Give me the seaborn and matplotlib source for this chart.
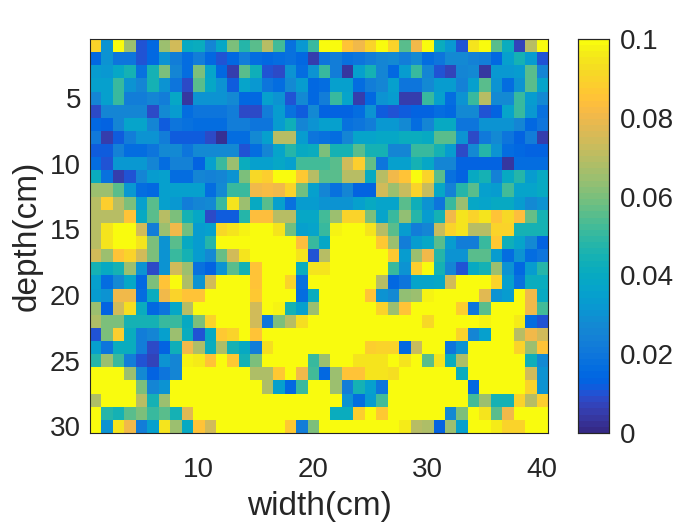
import numpy as np
import matplotlib
matplotlib.use("Agg")
import matplotlib.pyplot as plt
from matplotlib.colors import ListedColormap
import seaborn as sns

# cell values, in units of 0.01 (rows = depth, columns = width)
r01 = [9,3,10,6.5,1,1.5,6.5,7.5,4,4.2,2.5,3.8,6,4.8,5.5,7,5.2,1.8,3.2,5, 10,10,8.5,8,9,10,9,5.5,8,10,4.2,3.2,1,9.5,10,5.5,4.2,.7,7,10]
r02 = [1.5,3,2,2,1,1.5,3,2.3,1.7,2.2,1.5,1,1.5,2.3,1.7,1.5,1.7,1.8,1.5,.5, 2,2.2,1.8,2,2.2,2.5,2.8,2.2,2.7,1.7,2,2.7,2.7,2.4,2.3,1.5,3.5,4.5,3.3,1]
r03 = [3.3,3.2,3.8,4.5,1.8,4.5,6,2.5,1.7,6,3.7,1.5,.6,5.5,4.3,1,.8,3,1.7,3, 5,2.3,.4,3.5,4.5,2.5,1.5,3.3,5,2.5,1,.7,2.5,2.7,.4,3.2,3.2,3.3,5.5,2.5]
r04 = [3.5,3.5,5,3,2.5,4.5,3,2,.9,5.5,3.8,3,1.2,3.7,3.2,2,1.7,2.8,3.3,1.5, 1.7,3.5,3.5,1.7,2.2,2.5,3.5,2,2,2.7,3.3,3.3,2.4,3.5,5.5,3,1.7,3,5.5,3.7]
r05 = [2.5,3.5,5,2.2,2.2,2.5,2.2,3.8,.4,3,3,3,2.7,1.5,1.5,3.5,3,1,2.7,1.5, 2.3,5,3.7,.5,1.5,3,3.3,.6,.6,5,3.5,1.7,3,5,7,2.7,2.8,5,3.3,2.7]
r06 = [.8,2.5,2.5,2.5,2.5,.8,2.7,3.3,1.7,2,2,2,2.2,.8,.8,2.3,3.3,1.8,1.2,2.8, 1.4,1.4,1.4,1.6,3,1.2,1,1.2,1.4,1.4,1.7,1.5,2.8,2.8,1,1.3,3.7,5,3.2,1.8]
r07 = [1.5,1.3,2.5,3.7,3.7,2.5,1.1,2,1.8,1.6,1.6,1.6,2.2,2.2,2,1.9,3.3,4.3,2.5,3, 3.5,3.5,1.8,2,2.3,3.2,3.2,2.7,1.6,2.5,4,4,2,2,3,3,3,2.5,1.5,2]
r08 = [2.1,.6,1.2,2.2,3,3,2.3,1.2,1.2,1.2,.8,.3,1.6,1.6,2.8,3.5,7,7,3.4,2, 1.8,1.7,2.5,3.6,3.6,3.8,3.8,4.2,4.2,4,5.5,5.5,3,.9,2.1,2.8,2,1.3,2.2,.6]
r09 = [1.2,1.2,2.4,1.7,1.7,2,2.8,2.8,2,2.7,2.7,2.7,2.8,1,1.7,2.6,3.7,4.8,4,4.2, 6,4.5,4.5,5.5,4.5,4.5,2.5,2.5,5,5,4.5,3.3,.8,2.8,4.8,3,1.6,1.5,1.4,1.4]
r10 = [1.6,1,3.2,3.2,3.2,2.6,1.6,2.4,2.4,1.3,3.5,5,6.5,4.2,3.5,3.5,3.8,3.5,5.3,5.3, 5.3,5.5,7.5,8.8,5.7,1.9,3.5,3.5,4.5,3.8,2.5,2.5,1.4,1.4,1.4,1.3,.4,1.6,1.6,1.6]
r11 = [4.2,1.8,.6,1,2.6,3.3,3.5,1.7,1.7,2.5,2.4,2.6,3,6,9.2,8.8,10,10,8.7,7, 5.5,5.5,7,7,4,7,8,8.5,10,9,5.5,1.8,1.4,4,4.5,2.4,4,4.7,3.3,4]
r12 = [6.5,6.5,5.5,3.2,1.6,1.5,3.5,3.5,3.5,3.5,1.7,2.8,5,5,8,8.2,8,9,5.8,3.5, 2.5,1.8,2.6,1.3,1.3,7.5,6.5,7.2,9,7.3,3.8,2.4,4.8,5.5,3.5,3.3,5.2,3.7,3.6,4]
r13 = [7,8.8,7,6,3.5,5.5,3.5,3.2,2.2,2.5,2.7,5,9.5,6.5,4,5.5,3.5,1.8,3.3,3.3, 3,3,3,3.5,4,3.6,3.6,5.5,4.3,3,1.9,5,6.5,3.8,3.6,4,4,3.3,2.8,3]
r14 = [7,7,7,8.5,4,5.5,7,6,4.5,3.8,.8,1.2,1.2,4.8,8.3,8.3,7,7,3.8,3.8, 5.3,6.5,9,9,6,3.7,5,6.3,4.7,3.3,4.5,8,9.5,9,9.5,8.5,9.2,8.3,5.7,4.5]
r15 = [7,9.5,10,10,7.5,2.3,6.5,8,5.8,3.3,3.5,9.2,9.5,9.8,10,10,9.5,5.8,3.5,3.7, 5,9.8,10,10,9.5,7,5.5,3.3,2.2,2.5,7.3,9,9.5,7,7,9,9,4.5,4.5,4.5]
r16 = [7,9.5,10,10,9.5,6,3,5.5,4,3.3,4.8,10,10,10,10,10,10,10,8.3,5, 3.8,10,10,10,10,8.7,6.5,2.3,3.3,3.8,5.5,3.3,2.2,2.2,5,8.7,4.3,3.7,2.8,1.4]
r17 = [7.5,6.5,8.5,9,7.5,6,3,5,4.5,3.3,2.8,5.7,7.5,9.5,10,10,10,10,9.5,1, 7,10,10,10,10,10,8.6,3.3,6.5,8,4.8,3,3,5.5,5.5,3.3,1.6,3,1.7,2]
r18 = [4.5,4,4.5,6.5,3,.8,3,7.5,6.5,1.8,1.4,3,5.5,4.5,8.5,10,10,10,4.2,9.5, 9.5,10,10,10,10,10,5,3,8.8,10,4.5,2.5,1,4,4.5,6.5,3,1.5,3.4,4.7]
r19 = [3.5,1.6,2.8,3.8,1.5,6,8.5,10,6.8,3,7.5,10,10,10,8.5,10,10,9,1.8,10, 10,10,10,10,10,7,1.5,2,3.6,3.6,3.8,7.5,10,10,10,9,3.5,1.8,4.2,4.2]
r20 = [3.4,3,8,8,1.6,4.2,8,9,8.5,8.5,10,10,10,10,8.7,10,10,10,1.7,4.2, 10,10,10,10,8.5,3,2.8,6.3,6.5,9.7,10,10,10,10,7.8,3,3.3,10,8,4]
r21 = [6.5,1.3,7.5,9.3,4.2,1.5,2,3.8,7,10,10,10,10,10,7.5,10,9.7,4.5,3.5,6.5, 10,10,10,10,10,9,6.5,8.5,10,10,10,10,8.8,2,5.5,10,10,10,8,5.3]
r22 = [6.8,6,6,4.5,4.5,4.5,5,5,4,6,9,10,10,10,7.5,2,6,7,9.3,10, 10,10,10,10,10,10,10,10,9.9,9.2,10,10,10,10,9.7,10,10,9.6,1.7,1]
r23 = [1,6,8.8,4.2,2.2,2.5,3.5,6.5,4.2,1,4,8.7,9,10,8.5,10,10,10,10,10, 10,10,10,10,10,10,10,10,10,10,10,10,9,2.5,3.5,10,9.9,7,8,7.5]
r24 = [3.5,2,4.2,4.2,2.2,.8,1.3,4.3,8,6.8,4.2,6.8,4.5,4,2.2,9.3,10,10,10,10, 10,10,10,10,8.8,9,9,1.5,7.2,10,10,2,3,10,10,10,10,9,6.5,8.5]
r25 = [4.8,6.5,5,2.2,1,.7,3,2.5,9.8,9.6,8.5,10,8.7,4.5,6,10,10,10,10,5, 6.5,10,10,9.5,9.5,9.5,10,9.5,10,5.5,9.5,4.2,6.8,10,10,10,10,10,4.3,2.7]
r26 = [10,10,10,6.5,2.8,1.3,2,2.5,10,10,10,10,10,10,6.8,6.8,8.7,10,8,5.3, 1.5,6.5,8.5,8.5,9.5,9.5,9.3,10,10,10,10,10,4.2,10,10,10,10,10,7.5,3]
r27 = [10,10,10,10,6,2.5,3,10,10,10,10,10,10,10,10,6.8,3.5,1.5,5,10, 10,6.5,2.3,4.5,3.5,2,10,10,10,10,10,10,10,1.5,10,10,10,10,9,3]
r28 = [6.8,10,10,10,7,4.5,6.5,10,10,10,10,10,10,10,10,10,10,10,10,10, 10,10,3,1.7,3.3,5.3,10,10,10,10,10,10,10,5.3,6.5,4.5,4.5,9,7,8.8]
r29 = [10,4.7,4.5,5.5,6,5,5.5,4.5,7.7,10,10,10,10,10,10,10,10,10,10,10, 10,4.2,4.2,8.8,10,8.7,10,10,10,10,10,2.8,6,10,9.5,5.5,8,10,10,10]
r30 = [10,3,9.5,8,2.2,3.5,9.5,6.5,4,8.5,7.5,10,10,10,10,10,10,8.7,2.3,6, 10,10,10,10,10,10,10,9.6,7,6.8,1.3,6.5,3.5,10,10,9.6,9,9,10,10]
rows = [r01,r02,r03,r04,r05,r06,r07,r08,r09,r10,r11,r12,r13,r14,r15,
        r16,r17,r18,r19,r20,r21,r22,r23,r24,r25,r26,r27,r28,r29,r30]
x_ticks = [10, 20, 30, 40]
y_ticks = [5, 10, 15, 20, 25, 30]
cbar_ticks = [0, 0.02, 0.04, 0.06, 0.08, 0.1]
cbar_labels = ["0", "0.02", "0.04", "0.06", "0.08", "0.1"]

parula = ListedColormap([
 (.2081,.1663,.5292),(.2116,.1898,.5777),(.2123,.2138,.6270),(.2081,.2386,.6771),(.1959,.2645,.7279),(.1707,.2919,.7792),
 (.1253,.3242,.8303),(.0591,.3598,.8683),(.0117,.3875,.8820),(.0060,.4086,.8828),(.0165,.4266,.8786),(.0329,.4430,.8720),
 (.0498,.4586,.8641),(.0629,.4737,.8554),(.0723,.4887,.8467),(.0779,.5040,.8384),(.0793,.5200,.8312),(.0749,.5375,.8263),
 (.0641,.5570,.8240),(.0488,.5772,.8228),(.0343,.5966,.8199),(.0265,.6137,.8135),(.0239,.6287,.8038),(.0231,.6418,.7913),
 (.0228,.6535,.7768),(.0267,.6642,.7607),(.0384,.6743,.7436),(.0590,.6838,.7254),(.0843,.6928,.7062),(.1133,.7015,.6859),
 (.1453,.7098,.6646),(.1801,.7177,.6424),(.2178,.7250,.6193),(.2586,.7317,.5954),(.3022,.7376,.5712),(.3482,.7424,.5473),
 (.3953,.7459,.5244),(.4420,.7481,.5033),(.4871,.7491,.4840),(.5300,.7491,.4661),(.5709,.7485,.4494),(.6099,.7473,.4337),
 (.6473,.7456,.4188),(.6834,.7435,.4044),(.7184,.7411,.3905),(.7525,.7384,.3768),(.7858,.7356,.3633),(.8185,.7327,.3498),
 (.8507,.7299,.3360),(.8824,.7274,.3217),(.9139,.7258,.3063),(.9450,.7261,.2886),(.9739,.7314,.2666),(.9938,.7455,.2403),
 (.9990,.7653,.2164),(.9955,.7861,.1967),(.9880,.8066,.1794),(.9789,.8271,.1633),(.9697,.8481,.1475),(.9626,.8705,.1309),
 (.9589,.8949,.1132),(.9598,.9218,.0948),(.9661,.9514,.0755),(.9763,.9831,.0538)])

values = np.array(rows) * 0.01
assert values.shape == (30, 40)

sns.set_theme(style="white")
plt.rcParams["font.family"] = ["Liberation Sans", "DejaVu Sans"]
INK = "#262626"
W, H = 700, 525
fig = plt.figure(figsize=(7, 5.25), dpi=100, facecolor="white")
ax = fig.add_axes([90/W, 1-433/H, 458/W, 394/H])
cax = fig.add_axes([578/W, 1-433/H, 31/W, 394/H])

sns.heatmap(values, ax=ax, cbar_ax=cax, cmap=parula, vmin=0, vmax=0.1,
            square=False, xticklabels=False, yticklabels=False,
            cbar_kws={"ticks": cbar_ticks})

ax.set_xticks([t - 0.5 for t in x_ticks])
ax.set_xticklabels([str(t) for t in x_ticks])
ax.set_yticks([t - 0.5 for t in y_ticks])
ax.set_yticklabels([str(t) for t in y_ticks], rotation=0)
ax.tick_params(axis="both", direction="in", length=4, width=0.6, color=INK,
               labelsize=20, labelcolor=INK, top=True, right=True,
               bottom=True, left=True)
ax.tick_params(axis="x", pad=17)
ax.tick_params(axis="y", pad=6.5)
ax.set_xlabel("width(cm)", fontsize=24, color=INK, labelpad=6)
ax.set_ylabel("depth(cm)", fontsize=24, color=INK, labelpad=5.5)
for s in ax.spines.values():
    s.set_visible(True)
    s.set_linewidth(0.8)
    s.set_color(INK)

cax.set_yticks(cbar_ticks)
cax.set_yticklabels(cbar_labels)
cax.tick_params(axis="y", direction="in", length=3, width=0.6, color=INK,
                labelsize=20, labelcolor=INK, pad=8, right=True)
for s in cax.spines.values():
    s.set_visible(True)
    s.set_linewidth(0.8)
    s.set_color(INK)

fig.savefig("out.png", dpi=100, facecolor="white")
